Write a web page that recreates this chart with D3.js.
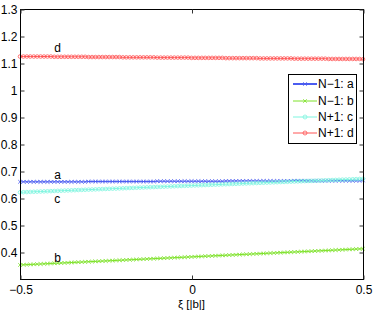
<!DOCTYPE html>
<html><head><meta charset="utf-8">
<script src="https://cdn.jsdelivr.net/npm/d3@7/dist/d3.min.js"></script>
<style>body{margin:0;background:#fff}svg{display:block}text{font-family:"Liberation Sans",Arial,sans-serif;}</style>
</head><body>
<script>
const xi = [-0.50,-0.49,-0.48,-0.47,-0.46,-0.45,-0.44,-0.43,-0.42,-0.41,
-0.40,-0.39,-0.38,-0.37,-0.36,-0.35,-0.34,-0.33,-0.32,-0.31,
-0.30,-0.29,-0.28,-0.27,-0.26,-0.25,-0.24,-0.23,-0.22,-0.21,
-0.20,-0.19,-0.18,-0.17,-0.16,-0.15,-0.14,-0.13,-0.12,-0.11,
-0.10,-0.09,-0.08,-0.07,-0.06,-0.05,-0.04,-0.03,-0.02,-0.01,
0.00,0.01,0.02,0.03,0.04,0.05,0.06,0.07,0.08,0.09,
0.10,0.11,0.12,0.13,0.14,0.15,0.16,0.17,0.18,0.19,
0.20,0.21,0.22,0.23,0.24,0.25,0.26,0.27,0.28,0.29,
0.30,0.31,0.32,0.33,0.34,0.35,0.36,0.37,0.38,0.39,
0.40,0.41,0.42,0.43,0.44,0.45,0.46,0.47,0.48,0.49,0.50];

const seriesA = [0.660,0.660,0.660,0.660,0.660,0.660,0.660,0.660,0.660,0.660,
0.660,0.660,0.660,0.660,0.660,0.660,0.660,0.660,0.660,0.660,
0.661,0.661,0.661,0.661,0.661,0.661,0.661,0.661,0.661,0.661,
0.661,0.661,0.661,0.661,0.661,0.661,0.661,0.661,0.661,0.661,
0.662,0.662,0.662,0.662,0.662,0.662,0.662,0.662,0.662,0.662,
0.662,0.662,0.662,0.662,0.662,0.662,0.662,0.662,0.662,0.662,
0.663,0.663,0.663,0.663,0.663,0.663,0.663,0.663,0.663,0.663,
0.663,0.663,0.663,0.663,0.663,0.663,0.663,0.663,0.663,0.663,
0.664,0.664,0.664,0.664,0.664,0.664,0.664,0.664,0.664,0.664,
0.664,0.664,0.664,0.664,0.664,0.664,0.664,0.664,0.664,0.664,0.665];

const seriesB = [0.3520,0.3526,0.3532,0.3538,0.3544,0.3550,0.3556,0.3562,0.3568,0.3574,
0.3580,0.3586,0.3592,0.3598,0.3604,0.3610,0.3616,0.3622,0.3628,0.3634,
0.3640,0.3646,0.3652,0.3658,0.3664,0.3670,0.3676,0.3682,0.3688,0.3694,
0.3700,0.3706,0.3712,0.3718,0.3724,0.3730,0.3736,0.3742,0.3748,0.3754,
0.3760,0.3766,0.3772,0.3778,0.3784,0.3790,0.3796,0.3802,0.3808,0.3814,
0.3820,0.3826,0.3832,0.3838,0.3844,0.3850,0.3856,0.3862,0.3868,0.3874,
0.3880,0.3886,0.3892,0.3898,0.3904,0.3910,0.3916,0.3922,0.3928,0.3934,
0.3940,0.3946,0.3952,0.3958,0.3964,0.3970,0.3976,0.3982,0.3988,0.3994,
0.4000,0.4006,0.4012,0.4018,0.4024,0.4030,0.4036,0.4042,0.4048,0.4054,
0.4060,0.4066,0.4072,0.4078,0.4084,0.4090,0.4096,0.4102,0.4108,0.4114,0.4120];

const seriesC = [0.6210,0.6215,0.6220,0.6225,0.6230,0.6235,0.6240,0.6245,0.6250,0.6255,
0.6260,0.6265,0.6270,0.6275,0.6280,0.6285,0.6290,0.6295,0.6300,0.6305,
0.6310,0.6315,0.6320,0.6325,0.6330,0.6335,0.6340,0.6345,0.6350,0.6355,
0.6360,0.6365,0.6370,0.6375,0.6380,0.6385,0.6390,0.6395,0.6400,0.6405,
0.6410,0.6415,0.6420,0.6425,0.6430,0.6435,0.6440,0.6445,0.6450,0.6455,
0.6460,0.6465,0.6470,0.6475,0.6480,0.6485,0.6490,0.6495,0.6500,0.6505,
0.6510,0.6515,0.6520,0.6525,0.6530,0.6535,0.6540,0.6545,0.6550,0.6555,
0.6560,0.6565,0.6570,0.6575,0.6580,0.6585,0.6590,0.6595,0.6600,0.6605,
0.6610,0.6615,0.6620,0.6625,0.6630,0.6635,0.6640,0.6645,0.6650,0.6655,
0.6660,0.6665,0.6670,0.6675,0.6680,0.6685,0.6690,0.6695,0.6700,0.6705,0.6710];

const seriesD = [1.124,1.124,1.124,1.124,1.124,1.124,1.124,1.124,1.124,1.124,
1.123,1.123,1.123,1.123,1.123,1.123,1.123,1.123,1.123,1.123,
1.122,1.122,1.122,1.122,1.122,1.122,1.122,1.122,1.122,1.122,
1.121,1.121,1.121,1.121,1.121,1.121,1.121,1.121,1.121,1.121,
1.120,1.120,1.120,1.120,1.120,1.120,1.120,1.120,1.120,1.120,
1.119,1.119,1.119,1.119,1.119,1.119,1.119,1.119,1.119,1.119,
1.118,1.118,1.118,1.118,1.118,1.118,1.118,1.118,1.118,1.118,
1.117,1.117,1.117,1.117,1.117,1.117,1.117,1.117,1.117,1.117,
1.116,1.116,1.116,1.116,1.116,1.116,1.116,1.116,1.116,1.116,
1.115,1.115,1.115,1.115,1.115,1.115,1.115,1.115,1.115,1.115,1.114];

const seriesNames = ["N\u22121: a","N\u22121: b","N+1: c","N+1: d"];
const curveLabels = ["a","b","c","d"];
const labelX = [-0.4,-0.4,-0.4,-0.4];
const labelY = [0.670,0.363,0.581,1.141];
const xTicks = [-0.5,0,0.5];
const yTicks = [0.4,0.5,0.6,0.7,0.8,0.9,1.0,1.1,1.2,1.3];
const xDomain = [-0.5,0.5];
const yDomain = [0.3,1.3];
const xLabel = "\u03BE [|b|]";

const W=374,H=311;
const m={l:20,r:11,t:9,b:32};
const FS=12;
const svg=d3.select("body").append("svg").attr("width",W).attr("height",H);
const x=d3.scaleLinear().domain(xDomain).range([m.l,W-m.r]);
const y=d3.scaleLinear().domain(yDomain).range([H-m.b,m.t]);

const colors=["#4b5cf0","#7ee22a","#7ff5df","#ff5555"];
const markers=["x","x","o","o"];
const allSeries=[seriesA,seriesB,seriesC,seriesD];

const fmtY=d=>String(+d.toFixed(1));
const fmtX=d=>d<0?"\u2212"+String(-d):String(d);

// series
const plot=svg.append("g");
allSeries.forEach((vals,si)=>{
  const pts=xi.map((v,i)=>[v,vals[i]]);
  plot.append("path").attr("d",d3.line().x(d=>x(d[0])).y(d=>y(d[1]))(pts))
    .attr("fill","none").attr("stroke",colors[si]).attr("stroke-width",1);
  const mg=plot.append("g");
  if(markers[si]==="o"){
    mg.selectAll("circle").data(pts).join("circle").attr("cx",d=>x(d[0])).attr("cy",d=>y(d[1])).attr("r",1.8)
      .attr("fill","none").attr("stroke",colors[si]).attr("stroke-width",0.8);
  } else {
    const s=1.8;
    mg.selectAll("path").data(pts).join("path")
      .attr("d",d=>{const cx=x(d[0]),cy=y(d[1]);return `M${cx-s},${cy-s}L${cx+s},${cy+s}M${cx-s},${cy+s}L${cx+s},${cy-s}`;})
      .attr("stroke",colors[si]).attr("stroke-width",0.8);
  }
});

// axes frame
const g=svg.append("g");
g.append("rect").attr("x",x(-0.5)+0.5).attr("y",y(1.3)+0.5).attr("width",x(0.5)-x(-0.5)).attr("height",y(0.3)-y(1.3))
 .attr("fill","none").attr("stroke","#000").attr("stroke-width",1);

const axB=svg.append("g").attr("transform",`translate(0.5,${y(0.3)+0.5})`).call(d3.axisBottom(x).tickValues(xTicks).tickSize(-4).tickPadding(6).tickFormat(fmtX));
const axT=svg.append("g").attr("transform",`translate(0.5,${y(1.3)+0.5})`).call(d3.axisTop(x).tickValues(xTicks).tickSize(-4).tickFormat(""));
const ayL=svg.append("g").attr("transform",`translate(${x(-0.5)+0.5},0.5)`).call(d3.axisLeft(y).tickValues(yTicks).tickSize(-4).tickPadding(3).tickFormat(fmtY));
const ayR=svg.append("g").attr("transform",`translate(${x(0.5)+0.5},0.5)`).call(d3.axisRight(y).tickValues(yTicks).tickSize(-4).tickFormat(""));
[axB,axT,ayL,ayR].forEach(a=>{a.select(".domain").remove();a.selectAll("line").attr("stroke","#333");a.selectAll("text").attr("font-size",FS).attr("fill","#000").style("font-family","'Liberation Sans',Arial,sans-serif");});

// curve labels
curveLabels.forEach((t,i)=>{
  svg.append("text").attr("x",x(labelX[i])).attr("y",y(labelY[i])).attr("font-size",FS).text(t);
});

// x label
svg.append("text").attr("x",x(0)).attr("y",307.5).attr("text-anchor","middle").attr("font-size",11.5).text(xLabel);

// legend
const lg=svg.append("g");
lg.append("rect").attr("x",288.5).attr("y",74.5).attr("width",68).attr("height",69).attr("fill","#fff").attr("stroke","#000").attr("stroke-width",1);
const rowY=[84,101,117,133];
seriesNames.forEach((n,i)=>{
  const yy=rowY[i];
  lg.append("line").attr("x1",293).attr("x2",317).attr("y1",yy).attr("y2",yy).attr("stroke",colors[i]).attr("stroke-width",i===0?2:1);
  if(markers[i]==="o"){
    lg.append("circle").attr("cx",305).attr("cy",yy).attr("r",2).attr("fill","none").attr("stroke",colors[i]).attr("stroke-width",0.8);
  } else {
    const s=1.8;
    lg.append("path").attr("d",`M${305-s},${yy-s}L${305+s},${yy+s}M${305-s},${yy+s}L${305+s},${yy-s}`).attr("stroke",colors[i]).attr("stroke-width",0.8);
  }
  lg.append("text").attr("x",318).attr("y",yy+4).attr("font-size",FS).text(n);
});
</script>
</body></html>
